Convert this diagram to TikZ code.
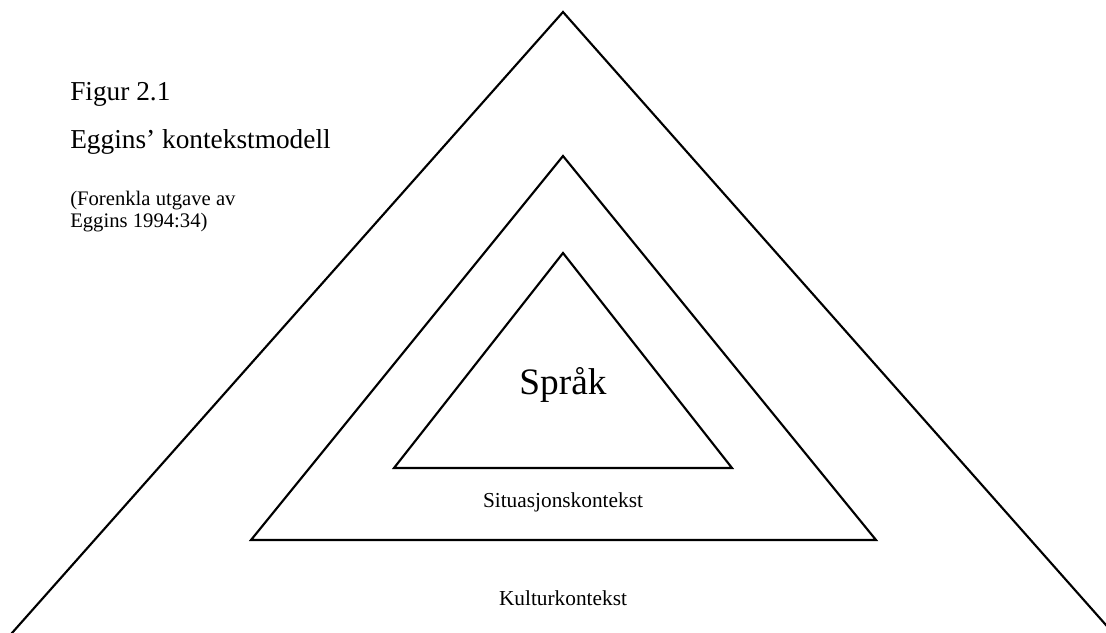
\documentclass[tikz,border=0pt]{standalone}
\usepackage{fontspec}
\setmainfont{Liberation Serif}
\begin{document}
\begin{tikzpicture}[x=0.75pt,y=-0.75pt,
  tri/.style={draw=black, line width=1.6pt, line join=miter},
  lbl/.style={inner sep=0pt, anchor=base west},
  ctr/.style={inner sep=0pt, anchor=base}]
\useasboundingbox (0,0) rectangle (1106,632);
\clip (0,0) rectangle (1106,632);
% outer triangle (base below the frame)
\coordinate (oA) at (563,12);
\coordinate (oL) at (4,642);
\coordinate (oR) at (1121,642);
\draw[tri] (oL) -- (oA) -- (oR);
% middle triangle
\coordinate (mA) at (563,156);
\coordinate (mL) at (251,540);
\coordinate (mR) at (876,540);
\draw[tri] (mA) -- (mL) -- (mR) -- cycle;
% inner triangle
\coordinate (iA) at (563,253);
\coordinate (iL) at (394,468);
\coordinate (iR) at (732,468);
\draw[tri] (iA) -- (iL) -- (iR) -- cycle;
% texts
\node[lbl, font=\fontsize{20.5}{24}\selectfont] (t1) at (70,100) {Figur 2.1};
\node[lbl, font=\fontsize{20.5}{24}\selectfont] (t2) at (70,148) {Eggins’ kontekstmodell};
\node[lbl, font=\fontsize{15.5}{18}\selectfont] (t3) at (70,205) {(Forenkla utgave av};
\node[lbl, font=\fontsize{15.5}{18}\selectfont] (t4) at (70,227) {Eggins 1994:34)};
\node[ctr, font=\fontsize{28}{32}\selectfont] (s1) at (563,394) {Språk};
\node[ctr, font=\fontsize{16}{19}\selectfont] (s2) at (563,507) {Situasjonskontekst};
\node[ctr, font=\fontsize{16}{19}\selectfont] (s3) at (563,605) {Kulturkontekst};
\end{tikzpicture}
\end{document}
